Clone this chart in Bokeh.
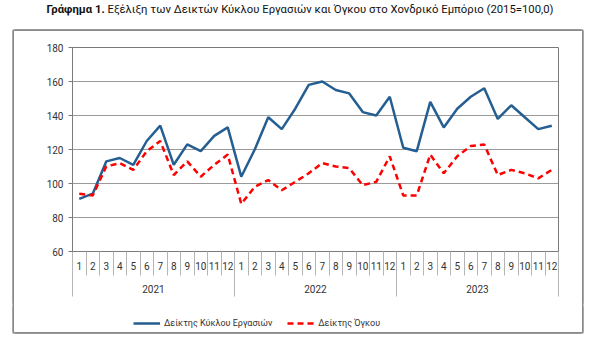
from bokeh.plotting import figure
from bokeh.models import (Range1d, LinearAxis, FixedTicker, Legend, LegendItem, Div)
from bokeh.layouts import column
from bokeh.embed import file_html
from bokeh.resources import INLINE

# ---------------- data ----------------
years = ["2021", "2022", "2023"]
months = ["1", "2", "3", "4", "5", "6", "7", "8", "9", "10", "11", "12"]
turnover = [91, 94, 113, 115, 111, 125, 134, 111, 123, 119, 128, 133,
            104, 120, 139, 132, 144, 158, 160, 155, 153, 142, 140, 151,
            121, 119, 148, 133, 144, 151, 156, 138, 146, 139, 132, 134]
volume = [94, 93, 110, 112, 108, 119, 125, 105, 113, 104, 111, 117,
          88, 98, 102, 96, 101, 106, 112, 110, 109, 99, 101, 116,
          93, 93, 117, 106, 116, 122, 123, 105, 108, 106, 103, 108]
y_ticks = [60, 80, 100, 120, 140, 160, 180]
title_bold = "Γράφημα 1."
title_rest = "Εξέλιξη των Δεικτών Κύκλου Εργασιών και Όγκου στο Χονδρικό Εμπόριο (2015=100,0)"
name_turnover = "Δείκτης Κύκλου Εργασιών"
name_volume = "Δείκτης Όγκου"

n = len(years) * len(months)
x = list(range(1, n + 1))

FONT = "Roboto"
BLUE = "#255e91"
RED = "#ff0000"
GRID = "#9a9a9a"
TXT = "#333333"
FRAME = "#8a8a8a"
BLUE_STYLE = dict(line_color=BLUE, line_width=2.5)
RED_STYLE = dict(line_color=RED, line_width=2.5, line_dash="6 4")


def shadow(css):
    return {"box-shadow": css, "boxShadow": css}


title = Div(text=(f'<div style="font-family:Roboto;font-size:11.3px;line-height:20px;'
                  f'text-align:center;color:#111;width:600px;white-space:nowrap">'
                  f'<b>{title_bold}</b> {title_rest}</div>'),
            width=600, height=31, margin=0)

p = figure(width=568, height=274, output_backend="svg", toolbar_location=None,
           x_range=Range1d(0.5, n + 0.5), y_range=Range1d(y_ticks[0], y_ticks[-1]),
           x_axis_type=None, min_border_left=58, min_border_right=24,
           min_border_top=16, min_border_bottom=54, margin=0,
           styles=shadow(f"-1.5px 0 0 {FRAME}, 1.5px 0 0 {FRAME}, 0 -1.5px 0 {FRAME}, "
                         f"-1.5px -1.5px 0 {FRAME}, 1.5px -1.5px 0 {FRAME}"))
p.background_fill_color = "white"
p.border_fill_color = "white"
p.outline_line_color = "#7a7a7a"
p.outline_line_width = 1

# y axis
ya = p.yaxis[0]
ya.ticker = FixedTicker(ticks=y_ticks)
ya.axis_line_color = "#7a7a7a"
ya.major_tick_out = 4
ya.major_tick_in = 0
ya.major_tick_line_color = "#7a7a7a"
ya.minor_tick_line_color = None
ya.major_label_standoff = 5
ya.major_label_text_font = FONT
ya.major_label_text_font_size = "10px"
ya.major_label_text_color = TXT
p.ygrid.ticker = FixedTicker(ticks=y_ticks)
p.ygrid.grid_line_color = GRID
p.ygrid.grid_line_width = 1
p.xgrid.visible = False

# month axis
month_overrides = {i: months[(i - 1) % 12] for i in x}
ax1 = LinearAxis(ticker=FixedTicker(ticks=x, minor_ticks=[v - 0.5 for v in x] + [n + 0.5]),
                 major_label_overrides=month_overrides)
ax1.axis_line_color = "#7a7a7a"
ax1.major_tick_out = 0
ax1.major_tick_in = 0
ax1.minor_tick_out = 24
ax1.minor_tick_in = 0
ax1.minor_tick_line_color = "#b5b5b5"
ax1.major_label_standoff = -14
ax1.major_label_text_font = FONT
ax1.major_label_text_font_size = "10px"
ax1.major_label_text_color = TXT
p.add_layout(ax1, "below")

# year axis
year_pos = [12 * k + 6.5 for k in range(len(years))]
ax2 = LinearAxis(ticker=FixedTicker(ticks=year_pos, minor_ticks=[12 * k + 0.5 for k in range(len(years) + 1)]),
                 major_label_overrides={pos: yr for pos, yr in zip(year_pos, years)})
ax2.axis_line_color = None
ax2.major_tick_out = 0
ax2.major_tick_in = 0
ax2.minor_tick_out = 24
ax2.minor_tick_in = 0
ax2.minor_tick_line_color = "#b5b5b5"
ax2.major_label_standoff = -12
ax2.major_label_text_font = FONT
ax2.major_label_text_font_size = "10px"
ax2.major_label_text_color = TXT
p.add_layout(ax2, "below")

# series
p.line(x, turnover, **BLUE_STYLE)
p.line(x, volume, **RED_STYLE)

# legend strip (its own small figure; sample lines share the series styles)
nan = float("nan")
lf = figure(width=568, height=27, output_backend="svg", toolbar_location=None,
            x_range=Range1d(0, 1), y_range=Range1d(0, 1), x_axis_type=None, y_axis_type=None,
            min_border=0, margin=0,
            styles=shadow(f"-1.5px 0 0 {FRAME}, 1.5px 0 0 {FRAME}, 0 1.5px 0 {FRAME}, "
                          f"-1.5px 1.5px 0 {FRAME}, 1.5px 1.5px 0 {FRAME}"))
lf.outline_line_color = None
lf.grid.visible = False
lr1 = lf.line([nan, nan], [nan, nan], **BLUE_STYLE)
lr2 = lf.line([nan, nan], [nan, nan], **RED_STYLE)
lg = Legend(items=[LegendItem(label=name_turnover, renderers=[lr1]),
                   LegendItem(label=name_volume, renderers=[lr2])],
            location=(61, 3), orientation="horizontal", padding=0, margin=0, spacing=15,
            glyph_width=27, glyph_height=12, label_height=12, label_standoff=4,
            border_line_color=None, background_fill_alpha=0,
            label_text_font=FONT, label_text_font_size="9px", label_text_color=TXT)
lf.add_layout(lg)

box = column(p, lf, spacing=0, margin=(0, 0, 0, 14))
open("out.html", "w").write(file_html(column(title, box, spacing=0), INLINE))
